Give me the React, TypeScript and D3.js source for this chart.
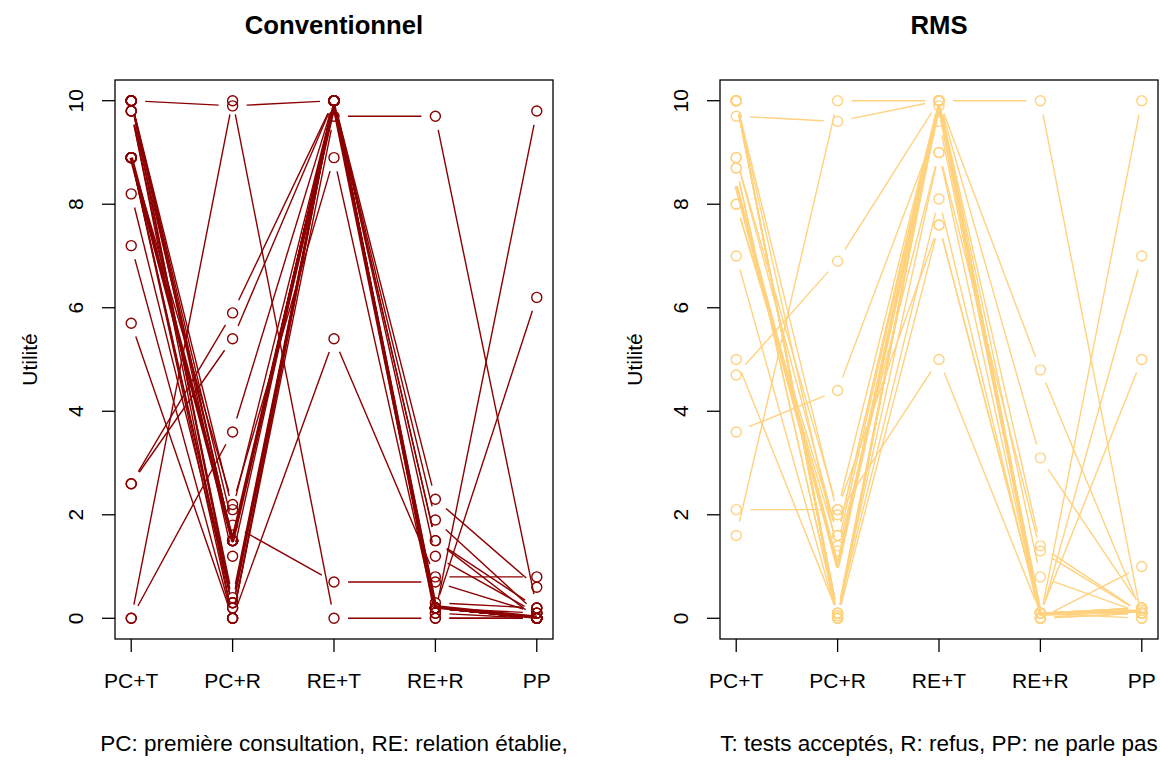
import React from "react";
import * as d3 from "d3";

const categories = ["PC+T", "PC+R", "RE+T", "RE+R", "PP"];
const yTicks = [0, 2, 4, 6, 8, 10];

// Conventionnel: one value per subject for each situation
const convPCT = [10, 0, 10, 10, 10, 9.8, 9.8, 8.9, 8.9, 8.9, 8.9, 8.9, 8.9, 8.2, 7.2, 5.7, 2.6, 2.6, 0, 10, 9.8, 10, 8.9, 10, 8.9, 10, 8.9];
const convPCR = [9.9, 10, 1.5, 0.3, 1.2, 1.5, 0.4, 1.5, 1.5, 1.5, 2.2, 0.3, 0.2, 0.3, 0, 0, 5.9, 5.4, 3.6, 1.8, 0, 2.1, 1.5, 0.2, 1.5, 1.5, 0];
const convRET = [10, 0, 10, 10, 10, 10, 10, 10, 10, 10, 8.9, 10, 10, 10, 9.7, 10, 10, 10, 10, 0.7, 5.4, 10, 10, 10, 10, 10, 10];
const convRER = [1.5, 0, 0.2, 0.2, 1.2, 0.2, 1.9, 0.2, 0.2, 0.2, 0.1, 1.5, 0.2, 2.3, 9.7, 0.2, 0.2, 0.1, 0.2, 0.7, 0.8, 0.2, 0.3, 0, 0.2, 0.2, 0.2];
const convPP = [0, 0, 0, 0, 0.1, 0, 0.1, 0, 0, 0, 0, 0.2, 0, 0.6, 0.2, 0, 0, 9.8, 6.2, 0.1, 0.8, 0, 0.2, 0, 0, 0.1, 0];
const convMean = [8.9, 1.5, 9.9, 0.22, 0.02];

// RMS
const rmsPCT = [9.7, 1.6, 3.6, 4.7, 5.0, 2.1, 10, 10, 10, 10, 8.9, 8.7, 8.0, 7.0, 10, 10, 10, 8.9, 10, 8.7, 10, 8.0, 10];
const rmsPCR = [9.6, 10, 4.4, 6.9, 0.1, 2.1, 0, 0, 0.1, 2.0, 1.6, 0, 1.4, 0, 0, 0.1, 1.3, 2.1, 0, 0, 0.1, 1.6, 0.05];
const rmsRET = [10, 10, 9.6, 10, 10, 10, 10, 10, 10, 5.0, 10, 10, 10, 7.6, 10, 8.1, 9.0, 7.6, 10, 10, 9.0, 10, 9.9];
const rmsRER = [0.1, 10, 0.1, 0, 1.4, 0.1, 0, 0, 0.1, 0.1, 0.1, 4.8, 3.1, 0.1, 0.8, 0, 1.3, 0.1, 0.1, 0, 0, 0.1, 0.1];
const rmsPP = [0.1, 0, 0.2, 0.1, 0.1, 0.2, 10, 7.0, 0.1, 0.2, 0.1, 0.1, 0.2, 5.0, 0.1, 1.0, 0.1, 0.1, 0, 0.2, 0.1, 0.1, 0.15];
const rmsMean = [8.35, 1.0, 9.9, 0.08, 0.14];

const FONT = "'Liberation Sans', Arial, Helvetica, sans-serif";

type PanelProps = {
  x0: number;
  title: string;
  cols: number[][];
  mean: number[];
  color: string;
  footer: string;
};

const W = 438;
const TOP = 80;
const BOTTOM = 639;
const GAP = 14;
const R = 5;

function Panel({ x0, title, cols, mean, color, footer }: PanelProps) {
  const x = d3.scaleLinear().domain([0.84, 5.16]).range([x0, x0 + W]);
  const y = d3.scaleLinear().domain([-0.4, 10.4]).range([BOTTOM, TOP]);
  const n = cols[0].length;
  const segs: any[] = [];
  const pts: any[] = [];
  for (let i = 0; i < n; i++) {
    for (let k = 0; k < cols.length; k++) {
      const px = x(k + 1);
      const py = y(cols[k][i]);
      pts.push(<circle key={`p${i}-${k}`} cx={px} cy={py} r={R} fill="none" stroke={color} strokeWidth={1.4} />);
      if (k < cols.length - 1) {
        const qx = x(k + 2);
        const qy = y(cols[k + 1][i]);
        const dx = qx - px;
        const dy = qy - py;
        const len = Math.hypot(dx, dy);
        if (len > 2 * GAP) {
          const ux = dx / len;
          const uy = dy / len;
          segs.push(
            <line key={`s${i}-${k}`} x1={px + ux * GAP} y1={py + uy * GAP} x2={qx - ux * GAP} y2={qy - uy * GAP} stroke={color} strokeWidth={1.4} />
          );
        }
      }
    }
  }
  const meanLine = d3.line<number>().x((_, k) => x(k + 1)).y((v) => y(v));
  const cx = x0 + W / 2;
  return (
    <g fontFamily={FONT}>
      <text x={cx} y={34} textAnchor="middle" fontSize={25.7} fontWeight="bold">{title}</text>
      {segs}
      {pts}
      <path d={meanLine(mean) || ""} fill="none" stroke={color} strokeWidth={3.6} strokeLinejoin="round" />
      <rect x={x0} y={TOP} width={W} height={BOTTOM - TOP} fill="none" stroke="#000" strokeWidth={1.3} />
      {yTicks.map((t) => (
        <g key={`yt${t}`}>
          <line x1={x0 - 13} x2={x0} y1={y(t)} y2={y(t)} stroke="#000" strokeWidth={1.3} />
          <text transform={`translate(${x0 - 31.7},${y(t)}) rotate(-90)`} textAnchor="middle" fontSize={21}>{t}</text>
        </g>
      ))}
      {categories.map((c, k) => (
        <g key={`xt${c}`}>
          <line x1={x(k + 1)} x2={x(k + 1)} y1={BOTTOM} y2={BOTTOM + 13} stroke="#000" strokeWidth={1.3} />
          <text x={x(k + 1)} y={688} textAnchor="middle" fontSize={21}>{c}</text>
        </g>
      ))}
      <text transform={`translate(${x0 - 78},${(TOP + BOTTOM) / 2}) rotate(-90)`} textAnchor="middle" fontSize={21}>Utilité</text>
      <text x={cx} y={751} textAnchor="middle" fontSize={22.5}>{footer}</text>
    </g>
  );
}

export default function App() {
  return (
    <svg width={1160} height={774} style={{ position: "absolute", left: 0, top: 0, background: "#fff" }}>
      <rect x={0} y={0} width={1160} height={774} fill="#fff" />
      <Panel
        x0={115}
        title="Conventionnel"
        cols={[convPCT, convPCR, convRET, convRER, convPP]}
        mean={convMean}
        color="#8B0000"
        footer="PC: première consultation, RE: relation établie,"
      />
      <Panel
        x0={720}
        title="RMS"
        cols={[rmsPCT, rmsPCR, rmsRET, rmsRER, rmsPP]}
        mean={rmsMean}
        color="#FFD27F"
        footer="T: tests acceptés, R: refus, PP: ne parle pas"
      />
    </svg>
  );
}
